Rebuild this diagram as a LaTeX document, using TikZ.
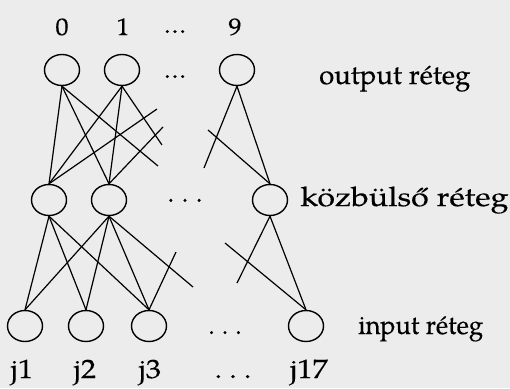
\documentclass[tikz,border=0pt]{standalone}
\usepackage{fontspec}
\setmainfont{TeX Gyre Pagella}[FakeBold=0.25]
\usetikzlibrary{shapes.geometric}
\definecolor{paper}{RGB}{236,236,236}
\begin{document}
\begin{tikzpicture}[x=1pt,y=-1pt,
  neuron/.style={draw=black,line width=1.4pt,ellipse,minimum width=35pt,minimum height=31pt,inner sep=0pt},
  wire/.style={black,line width=1.2pt},
  txt/.style 2 args={font=\fontsize{#1}{30}\selectfont\addfontfeatures{FakeStretch=#2},inner sep=0pt,anchor=base},
  lbl/.style={txt={26.5}{0.97}},
  jlbl/.style={txt={26.5}{1.15}},
  dig/.style={txt={24}{1.1}}]
\fill[paper] (0,0) rectangle (510,388);
\useasboundingbox (0,0) rectangle (510,388);

% output layer
\node[neuron] (o0) at (62,70) {};
\node[neuron] (o1) at (122,70) {};
\node[neuron] (o9) at (237,70) {};
% hidden layer
\node[neuron] (m0) at (49,200) {};
\node[neuron] (m1) at (109,200) {};
\node[neuron] (m2) at (270,200) {};
% input layer
\node[neuron] (i0) at (25,326) {};
\node[neuron] (i1) at (86,326) {};
\node[neuron] (i2) at (149,326) {};
\node[neuron] (i3) at (306,326) {};

% loose ends of the omitted connections
\coordinate (s1) at (158,166);
\coordinate (s2) at (162,145);
\coordinate (s3) at (157,109);
\coordinate (s4) at (163,127);
\coordinate (s5) at (204,168);
\coordinate (s6) at (208,130);
\coordinate (s7) at (193,287);
\coordinate (s8) at (176,252);
\coordinate (s9) at (237,283);
\coordinate (s10) at (225,243);

% output -- hidden
\draw[wire] (o0.south) -- (m0.north);
\draw[wire] (o0.south) -- (m1.north);
\draw[wire] (o0.south) -- (s1);
\draw[wire] (o1.south) -- (m0.north);
\draw[wire] (o1.south) -- (m1.north);
\draw[wire] (o1.south) -- (s2);
\draw[wire] (m0.north) -- (s3);
\draw[wire] (m1.north) -- (s4);
\draw[wire] (o9.south) -- (m2.north);
\draw[wire] (o9.south) -- (s5);
\draw[wire] (m2.north) -- (s6);

% hidden -- input
\draw[wire] (m0.south) -- (i0.north);
\draw[wire] (m0.south) -- (i1.north);
\draw[wire] (m0.south) -- (i2.north);
\draw[wire] (m1.south) -- (i0.north);
\draw[wire] (m1.south) -- (i1.north);
\draw[wire] (m1.south) -- (i2.north);
\draw[wire] (m1.south) -- (s7);
\draw[wire] (i2.north) -- (s8);
\draw[wire] (m2.south) -- (i3.north);
\draw[wire] (m2.south) -- (s9);
\draw[wire] (i3.north) -- (s10);

% digit labels above the output layer
\node[dig] (d0) at (62,35) {0};
\node[dig] (d1) at (123,35) {1};
\node[dig] (dd) at (175,33) {…};
\node[dig] (d9) at (235,35) {9};
\node[dig] (od) at (175,78) {…};

% gaps in the lower layers
\node[lbl] (md) at (185,207) {·\hspace{7pt}·\hspace{7pt}·};
\node[lbl] (id) at (225,334) {.\hspace{7pt}.\hspace{7pt}.};

% layer names
\node[txt={27}{1.02},anchor=base west] (ol) at (319,84) {output réteg};
\node[txt={27}{1.19},anchor=base west] (ml) at (300,206) {közbülső réteg};
\node[lbl,anchor=base west] (il) at (358,334) {input réteg};

% input names
\node[jlbl] (j1) at (22,378) {j1};
\node[jlbl] (j2) at (85,378) {j2};
\node[jlbl] (j3) at (150,378) {j3};
\node[jlbl] (jd) at (233,378) {.\hspace{7pt}.\hspace{7pt}.};
\node[jlbl] (j17) at (309,378) {j17};
\end{tikzpicture}
\end{document}
